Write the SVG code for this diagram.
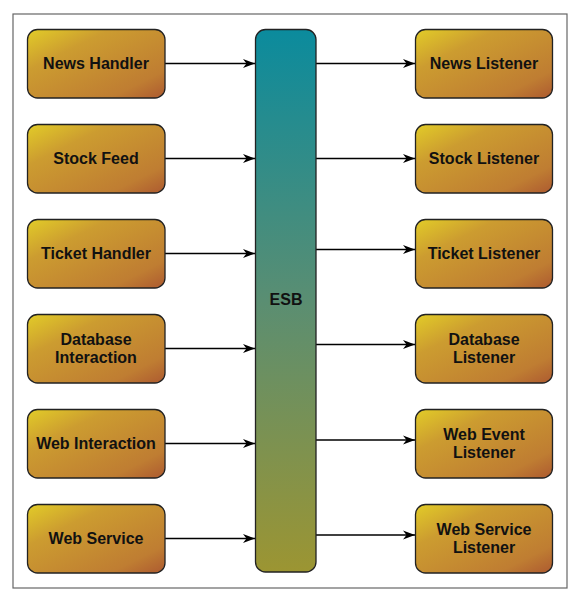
<svg xmlns="http://www.w3.org/2000/svg" width="581" height="597" viewBox="0 0 581 597">
<defs>
<linearGradient id="ng" x1="0" y1="0" x2="1" y2="1">
<stop offset="0" stop-color="#e2cc28"/>
<stop offset="0.3" stop-color="#cc9c30"/>
<stop offset="0.8" stop-color="#bf7d32"/>
<stop offset="1" stop-color="#ad5a30"/>
</linearGradient>
<linearGradient id="eg" x1="0" y1="0" x2="0" y2="1">
<stop offset="0" stop-color="#0b8b9d"/>
<stop offset="0.5" stop-color="#5a8e72"/>
<stop offset="1" stop-color="#9c9532"/>
</linearGradient>
<marker id="ah" viewBox="0 0 12 10" refX="12" refY="5" markerWidth="12" markerHeight="10" markerUnits="userSpaceOnUse" orient="auto">
<path d="M0,0.5 L12,5 L0,9.5 L3.5,5 Z" fill="#000"/>
</marker>
</defs>
<style>
.n{fill:url(#ng);stroke:#222;stroke-width:1.3}
.t{font-family:"Liberation Sans",Arial,sans-serif;font-weight:bold;font-size:16px;fill:#111;text-anchor:middle}
.c{stroke:#000;stroke-width:1.4;fill:none;marker-end:url(#ah)}
</style>
<rect x="13" y="14" width="554" height="574" fill="#fff" stroke="#666" stroke-width="1.2"/>
<g id="connectors">
<line class="c" x1="165" y1="63.5" x2="255" y2="63.5"/>
<line class="c" x1="165" y1="158.5" x2="255" y2="158.5"/>
<line class="c" x1="165" y1="253.5" x2="255" y2="253.5"/>
<line class="c" x1="165" y1="348.5" x2="255" y2="348.5"/>
<line class="c" x1="165" y1="443.5" x2="255" y2="443.5"/>
<line class="c" x1="165" y1="538.5" x2="255" y2="538.5"/>
<line class="c" x1="316" y1="63.5" x2="415" y2="63.5"/>
<line class="c" x1="316" y1="158.5" x2="415" y2="158.5"/>
<line class="c" x1="316" y1="249.5" x2="415" y2="249.5"/>
<line class="c" x1="316" y1="344.5" x2="415" y2="344.5"/>
<line class="c" x1="316" y1="440" x2="415" y2="440"/>
<line class="c" x1="316" y1="535" x2="415" y2="535"/>
</g>
<g id="esb"><rect x="255.5" y="29.5" width="60.5" height="542.5" rx="10" fill="url(#eg)" stroke="#222" stroke-width="1.3"/><text class="t" x="286" y="305">ESB</text></g>
<g id="news-handler"><rect class="n" x="27.5" y="29.5" width="137.5" height="68.5" rx="10"/><text class="t" x="96" y="69">News Handler</text></g>
<g id="stock-feed"><rect class="n" x="27.5" y="124.5" width="137.5" height="68.5" rx="10"/><text class="t" x="96" y="164">Stock Feed</text></g>
<g id="ticket-handler"><rect class="n" x="27.5" y="219.5" width="137.5" height="68.5" rx="10"/><text class="t" x="96" y="259">Ticket Handler</text></g>
<g id="database-interaction"><rect class="n" x="27.5" y="314.5" width="137.5" height="68.5" rx="10"/><text class="t" x="96" y="345">Database</text><text class="t" x="96" y="363">Interaction</text></g>
<g id="web-interaction"><rect class="n" x="27.5" y="409.5" width="137.5" height="68.5" rx="10"/><text class="t" x="96" y="449">Web Interaction</text></g>
<g id="web-service"><rect class="n" x="27.5" y="504.5" width="137.5" height="68.5" rx="10"/><text class="t" x="96" y="544">Web Service</text></g>
<g id="news-listener"><rect class="n" x="415.5" y="29.5" width="137" height="68.5" rx="10"/><text class="t" x="484" y="69">News Listener</text></g>
<g id="stock-listener"><rect class="n" x="415.5" y="124.5" width="137" height="68.5" rx="10"/><text class="t" x="484" y="164">Stock Listener</text></g>
<g id="ticket-listener"><rect class="n" x="415.5" y="219.5" width="137" height="68.5" rx="10"/><text class="t" x="484" y="259">Ticket Listener</text></g>
<g id="database-listener"><rect class="n" x="415.5" y="314.5" width="137" height="68.5" rx="10"/><text class="t" x="484" y="345">Database</text><text class="t" x="484" y="363">Listener</text></g>
<g id="web-event-listener"><rect class="n" x="415.5" y="409.5" width="137" height="68.5" rx="10"/><text class="t" x="484" y="440">Web Event</text><text class="t" x="484" y="458">Listener</text></g>
<g id="web-service-listener"><rect class="n" x="415.5" y="504.5" width="137" height="68.5" rx="10"/><text class="t" x="484" y="535">Web Service</text><text class="t" x="484" y="553">Listener</text></g>
</svg>
